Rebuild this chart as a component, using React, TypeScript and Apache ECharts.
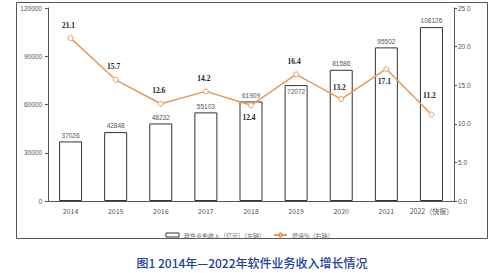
import React, { useEffect, useRef } from "react";
import * as echarts from "echarts";

const years = ["2014", "2015", "2016", "2017", "2018", "2019", "2020", "2021", "2022（快报）"];
const revenue = [37026, 42848, 48232, 55103, 61909, 72072, 81586, 95502, 108126];
const revenueLabelPos = ["top", "top", "top", "top", "top", "insideTop", "top", "top", "top"];
const growth = [21.1, 15.7, 12.6, 14.2, 12.4, 16.4, 13.2, 17.1, 11.2];
const growthLabelPos = ["top", "top", "top", "top", "bottom", "top", "top", "bottom", "top"];
const growthLabelDist = [6, 6, 6, 6, 5, 6, 5, 6, 12];
const leftTicks = [0, 30000, 60000, 90000, 120000];
const rightTicks = [0, 5, 10, 15, 20, 25];

const barName = "软件业务收入（亿元）（左轴）";
const lineName = "增速%（右轴）";
const title = "图1 2014年—2022年软件业务收入增长情况";

const FONT = "'Liberation Sans', 'Noto Sans CJK SC', sans-serif";
const CJK = "'Noto Sans CJK SC', sans-serif";

export default function App() {
  const ref = useRef<HTMLDivElement>(null);

  useEffect(() => {
    if (!ref.current) return;
    const chart = echarts.init(ref.current, null, { renderer: "svg" });
    chart.setOption({
      animation: false,
      backgroundColor: "#ffffff",
      textStyle: { fontFamily: FONT },
      grid: { left: 48, right: 45, top: 8, bottom: 72 },
      legend: {
        top: 227,
        left: "center",
        itemGap: 8,
        itemWidth: 13,
        itemHeight: 4,
        textStyle: { fontSize: 6, color: "#666", fontFamily: CJK },
        data: [
          { name: barName, icon: "rect", itemStyle: { color: "#ffffff", borderColor: "#333", borderWidth: 1 } },
          { name: lineName, textStyle: { color: "#666" } },
        ],
      },
      xAxis: {
        type: "category",
        data: years,
        axisLine: { lineStyle: { color: "#555", width: 1 } },
        axisTick: { show: false },
        axisLabel: { interval: 0, fontSize: 7, color: "#555", margin: 6, fontFamily: CJK },
      },
      yAxis: [
        {
          type: "value",
          min: leftTicks[0],
          max: leftTicks[leftTicks.length - 1],
          interval: leftTicks[1] - leftTicks[0],
          axisLine: { show: true, lineStyle: { color: "#555" } },
          axisTick: { show: true, length: 3, lineStyle: { color: "#555" } },
          axisLabel: { fontSize: 6.5, color: "#555", margin: 6, formatter: (v: number) => String(v) },
          splitLine: { show: false },
        },
        {
          type: "value",
          min: rightTicks[0],
          max: rightTicks[rightTicks.length - 1],
          interval: rightTicks[1] - rightTicks[0],
          axisLine: { show: true, lineStyle: { color: "#555" } },
          axisTick: { show: true, length: 3, lineStyle: { color: "#555" } },
          axisLabel: { fontSize: 6.5, color: "#555", margin: 4, formatter: (v: number) => v.toFixed(1) },
          splitLine: { show: false },
        },
      ],
      series: [
        {
          name: barName,
          type: "bar",
          data: revenue.map((v, i) => ({
            value: v,
            label: { position: revenueLabelPos[i] },
          })),
          barWidth: 23,
          itemStyle: { color: "#ffffff", borderColor: "#333", borderWidth: 1 },
          label: { show: true, position: "top", distance: 3, fontSize: 6.5, color: "#555" },
        },
        {
          name: lineName,
          type: "line",
          yAxisIndex: 1,
          data: growth.map((v, i) => ({
            value: v,
            label: { position: growthLabelPos[i], distance: growthLabelDist[i] },
          })),
          symbol: "circle",
          symbolSize: 5,
          lineStyle: { color: "#e59a5c", width: 1.5 },
          itemStyle: { color: "#ffffff", borderColor: "#e59a5c", borderWidth: 1 },
          label: {
            show: true,
            fontSize: 7.5,
            fontWeight: "bold",
            color: "#222",
            fontFamily: "'Liberation Serif', serif",
            offset: [-2, 0],
            formatter: (p: any) => p.value.toFixed(1),
          },
        },
      ],
      graphic: [
        {
          type: "rect",
          shape: { x: 16.5, y: 2.5, width: 471, height: 236 },
          style: { fill: "none", stroke: "#555", lineWidth: 1 },
          silent: true,
        },
        {
          type: "text",
          x: 252,
          y: 262,
          style: {
            text: title,
            fill: "#23409a",
            fontSize: 12,
            fontWeight: 500,
            fontFamily: CJK,
            align: "center",
            verticalAlign: "middle",
          },
        },
      ],
    });
    return () => chart.dispose();
  }, []);

  return (
    <div
      ref={ref}
      style={{ position: "fixed", left: 0, top: 0, width: 499, height: 273 }}
    />
  );
}
